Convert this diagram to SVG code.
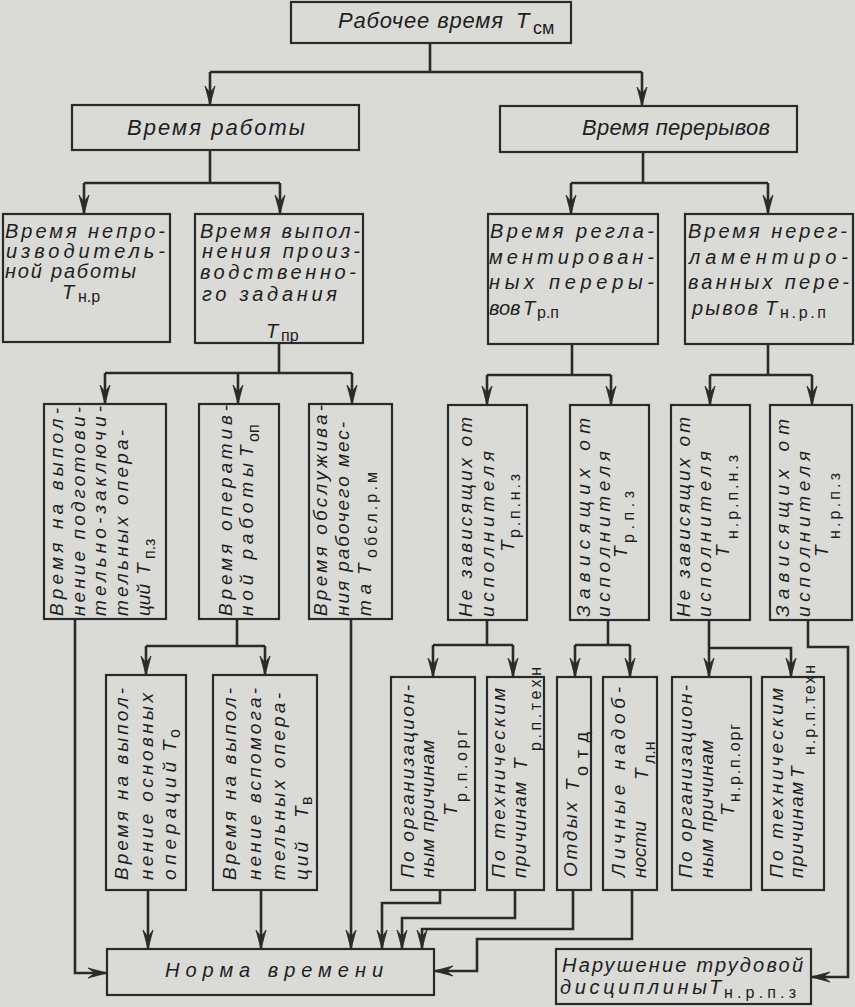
<svg xmlns="http://www.w3.org/2000/svg" width="855" height="1007" viewBox="0 0 855 1007">
<style>
.bg{fill:#dadad7}
.box{fill:none;stroke:#2a2a2a;stroke-width:2.2}
.ln{fill:none;stroke:#2a2a2a;stroke-width:2.6}
.ah{fill:#2a2a2a;stroke:#2a2a2a;stroke-width:0.8;stroke-linejoin:miter}
text{font-family:"Liberation Sans","DejaVu Sans",sans-serif;font-style:italic;font-size:19px;fill:#1e1e1e}
.h{font-size:22px}
.m{font-size:20px}
.s{font-style:normal;font-size:16px}
.s2{font-style:normal;font-size:18px}
</style>
<defs>
<path id="ahD" class="ah" d="M0,0 L-5,-19 L0,-12 L5,-19 Z"/>
<path id="ahR" class="ah" d="M0,0 L-19,-5 L-12,0 L-19,5 Z"/>
<path id="ahL" class="ah" d="M0,0 L19,-5 L12,0 L19,5 Z"/>
</defs>
<rect class="bg" x="0" y="0" width="855" height="1007"/>

<g id="connectors">
<path class="ln" d="M430,43 V72 M210,72 H642 M210,72 V104 M642,72 V105"/>
<path class="ln" d="M210,150 V183 M84,183 H280 M84,183 V213 M280,183 V213"/>
<path class="ln" d="M643,152 V183 M571,183 H768 M571,183 V213 M768,183 V213"/>
<path class="ln" d="M279,343 V373 M105,373 H352 M105,373 V403 M238,373 V403 M352,373 V403"/>
<path class="ln" d="M572,344 V375 M487,375 H611 M487,375 V404 M611,375 V404"/>
<path class="ln" d="M768,344 V375 M710,375 H812 M710,375 V404 M812,375 V404"/>
<path class="ln" d="M75,619 V973 H106"/>
<path class="ln" d="M237,619 V646 M146,646 H265 M146,646 V674 M265,646 V674"/>
<path class="ln" d="M351,619 V948"/>
<path class="ln" d="M148,890 V948"/>
<path class="ln" d="M261,890 V948"/>
<path class="ln" d="M487,620 V645 M433,645 H513 M433,645 V676 M513,645 V676"/>
<path class="ln" d="M608,620 V645 M575,645 H630 M575,645 V676 M630,645 V676"/>
<path class="ln" d="M709,620 V676 M709,648 H791 V676"/>
<path class="ln" d="M808,620 V647 H848 V977 H812"/>
<path class="ln" d="M440,890 V903 H382 V948"/>
<path class="ln" d="M515,890 V918 H402 V948"/>
<path class="ln" d="M573,890 V929 H422 V948"/>
<path class="ln" d="M632,890 V939 H477 V971 H435"/>
<use href="#ahD" x="210" y="105"/>
<use href="#ahD" x="642" y="106"/>
<use href="#ahD" x="84" y="214"/>
<use href="#ahD" x="280" y="214"/>
<use href="#ahD" x="571" y="214"/>
<use href="#ahD" x="768" y="214"/>
<use href="#ahD" x="105" y="404"/>
<use href="#ahD" x="238" y="404"/>
<use href="#ahD" x="352" y="404"/>
<use href="#ahD" x="487" y="405"/>
<use href="#ahD" x="611" y="405"/>
<use href="#ahD" x="710" y="405"/>
<use href="#ahD" x="812" y="405"/>
<use href="#ahR" x="107" y="973"/>
<use href="#ahD" x="146" y="675"/>
<use href="#ahD" x="265" y="675"/>
<use href="#ahD" x="351" y="949"/>
<use href="#ahD" x="148" y="949"/>
<use href="#ahD" x="261" y="949"/>
<use href="#ahD" x="433" y="677"/>
<use href="#ahD" x="513" y="677"/>
<use href="#ahD" x="575" y="677"/>
<use href="#ahD" x="630" y="677"/>
<use href="#ahD" x="709" y="677"/>
<use href="#ahD" x="791" y="677"/>
<use href="#ahL" x="811" y="977"/>
<use href="#ahD" x="382" y="949"/>
<use href="#ahD" x="402" y="949"/>
<use href="#ahD" x="422" y="949"/>
<use href="#ahL" x="434" y="971"/>
</g>

<g id="n-rabochee">
<rect class="box" x="291" y="2" width="280" height="41"/>
<text class="h" x="338" y="28" textLength="165">Рабочее время</text>
<text class="h" x="516" y="28">T</text>
<text class="s2" x="533" y="34">см</text>
</g>

<g id="n-rabota">
<rect class="box" x="72" y="105" width="287" height="45"/>
<text class="h" x="127" y="135" textLength="178">Время работы</text>
</g>

<g id="n-pereryvy">
<rect class="box" x="500" y="106" width="297" height="46"/>
<text class="h" x="582" y="135" textLength="188">Время перерывов</text>
</g>

<g id="n-neproizv">
<rect class="box" x="3" y="214" width="167" height="128"/>
<text class="m" x="5" y="238" textLength="160">Время непро-</text>
<text class="m" x="6" y="258" textLength="159">изводитель-</text>
<text class="m" x="5" y="278" textLength="131">ной работы</text>
<text class="m" x="62" y="299">T</text>
<text class="s" x="78" y="302">н.р</text>
</g>

<g id="n-tpr">
<rect class="box" x="195" y="214" width="168" height="129"/>
<text class="m" x="200" y="238" textLength="160">Время выпол-</text>
<text class="m" x="202" y="258" textLength="158">нения произ-</text>
<text class="m" x="200" y="279" textLength="156">водственно-</text>
<text class="m" x="202" y="301" textLength="135">го задания</text>
<text class="m" x="266" y="338">T</text>
<text class="s" x="281" y="341">пр</text>
</g>

<g id="n-trp">
<rect class="box" x="488" y="214" width="170" height="130"/>
<text class="m" x="490" y="238" textLength="164">Время регла-</text>
<text class="m" x="489" y="264" textLength="165">ментирован-</text>
<text class="m" x="489" y="289" textLength="165">ных переры-</text>
<text class="m" x="489" y="315">вов</text>
<text class="m" x="523" y="315">T</text>
<text class="s" x="537" y="318">р.п</text>
</g>

<g id="n-tnrp">
<rect class="box" x="685" y="214" width="168" height="130"/>
<text class="m" x="688" y="238" textLength="159">Время нерег-</text>
<text class="m" x="689" y="264" textLength="159">ламентиро-</text>
<text class="m" x="688" y="289" textLength="161">ванных пере-</text>
<text class="m" x="692" y="315" textLength="66">рывов</text>
<text class="m" x="765" y="315">T</text>
<text class="s" x="780" y="318" textLength="46">н.р.п</text>
</g>

<g id="n-tpz">
<rect class="box" x="44" y="404" width="122" height="215"/>
<g transform="translate(44,619) rotate(-90)">
<text x="3" y="19" textLength="208">Время на выпол-</text>
<text x="3" y="41" textLength="209">нение подготови-</text>
<text x="3" y="62" textLength="210">тельно-заключи-</text>
<text x="3" y="84" textLength="186">тельных опера-</text>
<text x="3" y="106" textLength="32">ций</text>
<text x="44" y="106">T</text>
<text class="s" x="60" y="111">п.з</text>
</g>
</g>

<g id="n-top">
<rect class="box" x="199" y="404" width="80" height="215"/>
<g transform="translate(199,619) rotate(-90)">
<text x="3" y="33" textLength="211">Время оператив-</text>
<text x="3" y="54" textLength="153">ной работы</text>
<text x="162" y="54">T</text>
<text class="s" x="177" y="60">оп</text>
</g>
</g>

<g id="n-tobsl">
<rect class="box" x="309" y="404" width="83" height="215"/>
<g transform="translate(309,619) rotate(-90)">
<text x="3" y="18" textLength="211">Время обслужива-</text>
<text x="3" y="40" textLength="194">ния рабочего мес-</text>
<text x="3" y="62" textLength="32">та</text>
<text x="44" y="62">T</text>
<text class="s" x="61" y="68" textLength="86">обсл.р.м</text>
</g>
</g>

<g id="n-to">
<rect class="box" x="106" y="675" width="80" height="215"/>
<g transform="translate(106,890) rotate(-90)">
<text x="10" y="22" textLength="192">Время на выпол-</text>
<text x="10" y="47" textLength="187">нение основных</text>
<text x="10" y="70" textLength="118">операций</text>
<text x="138" y="70">T</text>
<text class="s" x="152" y="74">о</text>
</g>
</g>

<g id="n-tv">
<rect class="box" x="213" y="675" width="104" height="215"/>
<g transform="translate(213,890) rotate(-90)">
<text x="10" y="23" textLength="192">Время на выпол-</text>
<text x="10" y="48" textLength="192">нение вспомога-</text>
<text x="10" y="72" textLength="187">тельных опера-</text>
<text x="10" y="95" textLength="38">ций</text>
<text x="72" y="95">T</text>
<text class="s" x="85" y="99">в</text>
</g>
</g>

<g id="n-trpnz">
<rect class="box" x="448" y="405" width="79" height="215"/>
<g transform="translate(448,620) rotate(-90)">
<text x="3" y="24" textLength="200">Не зависящих от</text>
<text x="3" y="46" textLength="166">исполнителя</text>
<text x="68" y="66">T</text>
<text class="s" x="82" y="72" textLength="64">р.п.н.з</text>
</g>
</g>

<g id="n-trpz">
<rect class="box" x="570" y="405" width="79" height="215"/>
<g transform="translate(570,620) rotate(-90)">
<text x="3" y="20" textLength="199">Зависящих от</text>
<text x="3" y="40" textLength="166">исполнителя</text>
<text x="62" y="57">T</text>
<text class="s" x="77" y="64" textLength="52">р.п.з</text>
</g>
</g>

<g id="n-tnrpnz">
<rect class="box" x="671" y="405" width="79" height="215"/>
<g transform="translate(671,620) rotate(-90)">
<text x="3" y="19" textLength="200">Не зависящих от</text>
<text x="3" y="40" textLength="166">исполнителя</text>
<text x="63" y="58">T</text>
<text class="s" x="81" y="67" textLength="84">н.р.п.н.з</text>
</g>
</g>

<g id="n-tnrpz">
<rect class="box" x="770" y="405" width="82" height="215"/>
<g transform="translate(770,620) rotate(-90)">
<text x="3" y="19" textLength="198">Зависящих от</text>
<text x="3" y="40" textLength="166">исполнителя</text>
<text x="63" y="58">T</text>
<text class="s" x="81" y="70" textLength="66">н.р.п.з</text>
</g>
</g>

<g id="n-trporg">
<rect class="box" x="391" y="677" width="84" height="213"/>
<g transform="translate(391,890) rotate(-90)">
<text x="12" y="23" textLength="193">По организацион-</text>
<text x="12" y="43" textLength="138">ным причинам</text>
<text x="74" y="66">T</text>
<text class="s" x="88" y="76" textLength="72">р.п.орг</text>
</g>
</g>

<g id="n-trptehn">
<rect class="box" x="487" y="677" width="57" height="213"/>
<g transform="translate(487,890) rotate(-90)">
<text x="12" y="18" textLength="190">По техническим</text>
<text x="12" y="39" textLength="96">причинам</text>
<text x="120" y="40">T</text>
<text class="s" x="139" y="54" textLength="84">р.п.техн</text>
</g>
</g>

<g id="n-totd">
<rect class="box" x="557" y="677" width="34" height="213"/>
<g transform="translate(557,890) rotate(-90)">
<text x="13" y="20" textLength="75">Отдых</text>
<text x="99" y="22">T</text>
<text class="s2" x="114" y="31" textLength="44">отд</text>
</g>
</g>

<g id="n-tln">
<rect class="box" x="603" y="677" width="54" height="213"/>
<g transform="translate(603,890) rotate(-90)">
<text x="13" y="22" textLength="190">Личные надоб-</text>
<text x="12" y="43">ности</text>
<text x="110" y="45">T</text>
<text class="s" x="126" y="52">л.н</text>
</g>
</g>

<g id="n-tnrporg">
<rect class="box" x="672" y="677" width="79" height="213"/>
<g transform="translate(672,890) rotate(-90)">
<text x="12" y="20" textLength="193">По организацион-</text>
<text x="12" y="41" textLength="138">ным причинам</text>
<text x="74" y="62">T</text>
<text class="s" x="88" y="68" textLength="78">н.р.п.орг</text>
</g>
</g>

<g id="n-tnrptehn">
<rect class="box" x="762" y="677" width="62" height="213"/>
<g transform="translate(762,890) rotate(-90)">
<text x="12" y="21" textLength="190">По техническим</text>
<text x="12" y="41" textLength="96">причинам</text>
<text x="112" y="42">T</text>
<text class="s" x="135" y="53" textLength="90">н.р.п.техн</text>
</g>
</g>

<g id="n-norma">
<rect class="box" x="107" y="949" width="327" height="46"/>
<text class="m" x="165" y="977" textLength="218">Норма времени</text>
</g>

<g id="n-narushenie">
<rect class="box" x="556" y="949" width="255" height="55"/>
<text class="m" x="562" y="972" textLength="241">Нарушение трудовой</text>
<text class="m" x="560" y="994" textLength="147">дисциплины</text>
<text class="m" x="709" y="994">T</text>
<text class="s" x="724" y="998" textLength="72">н.р.п.з</text>
</g>
</svg>
